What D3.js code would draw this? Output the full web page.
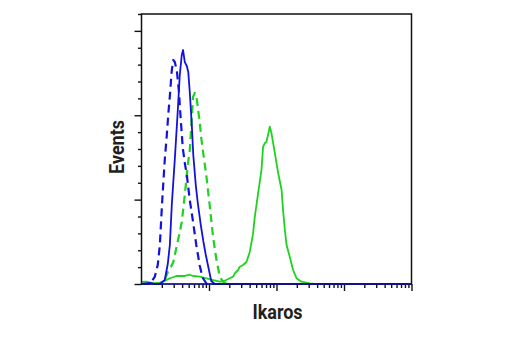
<!DOCTYPE html>
<html>
<head>
<meta charset="utf-8">
<script src="https://cdn.jsdelivr.net/npm/d3@7"></script>
<style>
  html, body { margin: 0; padding: 0; background: #fff; }
  svg { display: block; }
  .lab { font-family: Roboto, "Liberation Sans", sans-serif; font-weight: 700; font-size: 20px; fill: #231f20; }
</style>
</head>
<body>
<svg id="chart" width="520" height="350"></svg>
<script>
// ---- data (fluorescence intensity, event count) ----
const xLabel = "Ikaros";
const yLabel = "Events";
const xDomain = [1, 10000];
const yDomain = [0, 320];
const yMajorTicks = [0, 100, 200, 300];
const yMinorTicks = [20, 40, 60, 80, 120, 140, 160, 180, 220, 240, 260, 280, 320];

const greenSolidX = [1, 1.19, 1.49, 1.87, 2.09, 2.63, 3.30, 3.69, 4.38, 5.19, 5.81, 7.31, 9.18, 11.5, 14.5, 17.1, 20.3, 22.8, 24.1, 27.0, 28.6, 32.0, 35.9, 40.2, 45.0, 47.7, 53.4, 59.9, 63.3, 67.1, 71.1, 79.6, 84.3, 94.4, 106, 119, 125, 133, 141, 157, 176, 198, 234, 311, 369, 10000];
const greenSolidY = [2.4, 2.7, 0.8, 1.5, 2.7, 6.8, 9.5, 9.5, 9.5, 11.0, 9.5, 8.7, 6.8, 4.7, 2.7, 3.9, 6.8, 8.7, 12.7, 16.6, 20.5, 22.5, 26.1, 38, 60, 79.8, 107.5, 135.1, 162.7, 166.8, 168.6, 186.4, 178.6, 155.3, 131.2, 111.4, 87.7, 64, 46.2, 32.4, 16.6, 6.8, 2.7, 0.8, 0, 0];

const greenDashX = [1, 1.87, 2.21, 2.45, 2.72, 2.96, 3.33, 3.69, 3.95, 4.38, 4.85, 5.19, 5.50, 5.81, 6.16, 6.53, 6.90, 7.31, 7.74, 8.18, 9.18, 10.3, 11.5, 12.9, 14.5, 16.2, 19.0, 10000];
const greenDashY = [0, 0, 4.7, 14.2, 20.1, 26.1, 45.0, 61.6, 73.5, 105.5, 141, 158.8, 190.8, 222, 226.4, 222, 206.2, 190.8, 170.7, 156.4, 126.8, 91.3, 55.7, 28.4, 8.3, 2.4, 0, 0];

const blueDashX = [1, 1.33, 1.57, 1.74, 1.87, 2.03, 2.21, 2.37, 2.49, 2.63, 2.81, 2.96, 3.11, 3.33, 3.57, 3.82, 4.09, 4.38, 4.69, 5.19, 5.81, 6.48, 7.31, 8.09, 9.28, 10000];
const blueDashY = [0, 0, 8.3, 22.5, 46.2, 99.6, 147, 176.6, 200.3, 222.8, 253.6, 265.5, 263.1, 253.6, 229.9, 194.4, 161.2, 143.4, 129.2, 99.6, 73.5, 46.2, 21.3, 7.1, 0, 0];

const blueSolidX = [1, 1.33, 1.57, 1.87, 2.21, 2.45, 2.63, 2.81, 3.11, 3.45, 3.69, 3.95, 4.13, 4.38, 4.69, 4.93, 5.19, 5.56, 5.85, 6.37, 6.82, 7.56, 8.23, 8.97, 9.77, 10.8, 12.2, 10000];
const blueSolidY = [0, 1.2, 0, 0, 4.7, 23.7, 46.2, 93.6, 147, 206, 247.7, 271.4, 277.3, 263, 258.4, 251.3, 227.6, 188.4, 152.9, 117.3, 96, 69.9, 51, 34.4, 20.1, 3.6, 0, 0];

// ---- layout ----
const svg = d3.select("#chart");
const mLeft = 141.5, mTop = 14, W = 270, H = 270;
const x = d3.scaleLog().domain(xDomain).range([0, W]);
const y = d3.scaleLinear().domain(yDomain).range([H, 0]);
const g = svg.append("g").attr("transform", `translate(${mLeft},${mTop})`);

const series = [
  {x: greenSolidX, y: greenSolidY, color: "#1ed21e", dash: null, w: 1.8},
  {x: greenDashX, y: greenDashY, color: "#1ed21e", dash: "8,5", w: 2.2},
  {x: blueDashX, y: blueDashY, color: "#1212dc", dash: "8,5", w: 2.2},
  {x: blueSolidX, y: blueSolidY, color: "#1212dc", dash: null, w: 1.8}
];

const line = d3.line().x(d => x(d[0])).y(d => y(d[1]));
series.forEach(s => {
  const pts = s.x.map((v, i) => [v, s.y[i]]);
  g.append("path")
    .attr("d", line(pts))
    .attr("fill", "none")
    .attr("stroke", s.color)
    .attr("stroke-width", s.w)
    .attr("stroke-linejoin", "round")
    .attr("stroke-dasharray", s.dash);
});

// ---- axes ----
const axisColor = "#111";
const yMaj = g.append("g").call(d3.axisLeft(y).tickValues(yMajorTicks).tickSize(7).tickFormat(""));
const yMin = g.append("g").call(d3.axisLeft(y).tickValues(yMinorTicks).tickSize(3.5).tickFormat(""));
const xMajorTicks = [10, 100, 1000, 10000];
const xMinorTicks = [];
[1, 10, 100, 1000].forEach(d => { for (let k = 2; k <= 9; k++) xMinorTicks.push(d * k); });
const xMaj = g.append("g").attr("transform", `translate(0,${H})`).call(d3.axisBottom(x).tickValues(xMajorTicks).tickSize(7).tickFormat(""));
const xMin = g.append("g").attr("transform", `translate(0,${H})`).call(d3.axisBottom(x).tickValues(xMinorTicks).tickSize(4).tickFormat(""));
[yMaj, yMin, xMaj, xMin].forEach(a => {
  a.selectAll(".domain").remove();
  a.selectAll("line").attr("stroke", axisColor).attr("stroke-width", 1.4);
});
g.append("rect").attr("x", 0).attr("y", 0).attr("width", W).attr("height", H)
  .attr("fill", "none").attr("stroke", axisColor).attr("stroke-width", 1.5);
g.append("line").attr("x1", 0).attr("x2", W).attr("y1", y(0)).attr("y2", y(0))
  .attr("stroke", "#1212dc").attr("stroke-width", 1.2);

// ---- labels (slightly condensed bold) ----
svg.append("text").attr("class", "lab")
  .attr("transform", `translate(${mLeft + W / 2 + 1},318.5) scale(0.9,1)`)
  .attr("text-anchor", "middle").text(xLabel);
svg.append("text").attr("class", "lab")
  .attr("transform", `translate(124,${mTop + 133}) rotate(-90) scale(0.9,1)`)
  .attr("text-anchor", "middle").text(yLabel);
</script>
</body>
</html>
